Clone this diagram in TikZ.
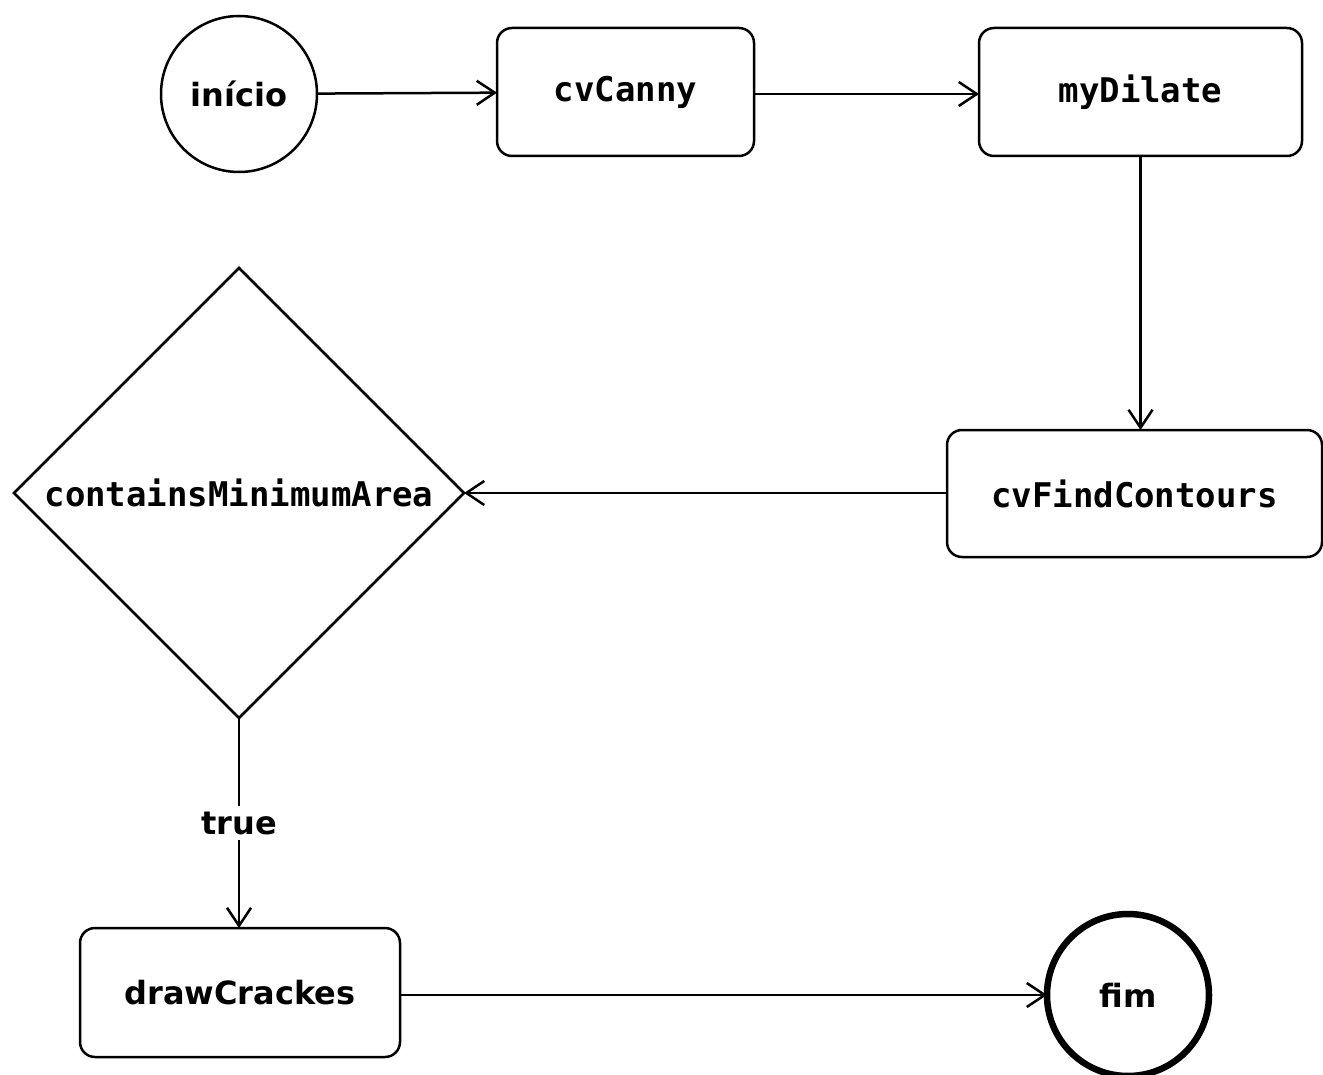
\documentclass[tikz,border=0pt]{standalone}
\usepackage{fontspec}
\usepackage{tikz}
\usetikzlibrary{arrows.meta,shapes.geometric}
\newfontfamily\stepfont{DejaVu Sans}
\newfontfamily\codefont{DejaVu Sans Mono}

\begin{document}
\begin{tikzpicture}[x=1pt,y=-1pt,
                line width=2.5pt,
                flow/.style={-{Straight Barb[length=18pt,width=24pt]}},
                box/.style={draw,rounded corners=15pt,outer sep=0pt,font=\codefont\bfseries\fontsize{34}{40}\selectfont},
                terminal/.style={draw,circle,inner sep=0pt,outer sep=0pt,font=\stepfont\bfseries\fontsize{32}{38}\selectfont}]
                \useasboundingbox (0,0) rectangle (1323,1075);
                % nodes
                \node[terminal,minimum size=156pt] (inicio) at (239,94) {início};
                \node[box,minimum width=257pt,minimum height=128pt] (canny) at (625.5,92) {cvCanny};
                \node[box,minimum width=323pt,minimum height=128pt] (dilate) at (1140.5,92) {myDilate};
                \node[box,minimum width=375pt,minimum height=127pt] (contours) at (1134.5,493.5) {cvFindContours};
                \node[draw,diamond,aspect=1,inner sep=0pt,outer sep=0pt,minimum width=450pt,minimum height=450pt,
                      font=\codefont\bfseries\fontsize{34}{40}\selectfont] (area) at (239,493) {containsMinimumArea};
                \node[box,font=\stepfont\bfseries\fontsize{32}{38}\selectfont,minimum width=320pt,minimum height=129pt] (cracks) at (240,992.5) {drawCrackes};
                \node[terminal,line width=6.5pt,minimum size=162pt] (fim) at (1128,995) {fim};
                % connectors
                \draw[flow] (inicio) -- (canny);
                \draw[flow] (canny.east |- inicio) -- (dilate.west |- inicio);
                \draw[flow] (dilate) -- (contours.north -| dilate);
                \draw[flow] (contours.west |- area) -- (area.east);
                \draw[flow] (area.south) -- node[fill=white,inner sep=6pt,font=\stepfont\bfseries\fontsize{32}{38}\selectfont]{true} (cracks.north -| area.south);
                \draw[flow] (cracks.east |- fim) -- (fim.west);
            \end{tikzpicture}
\end{document}
